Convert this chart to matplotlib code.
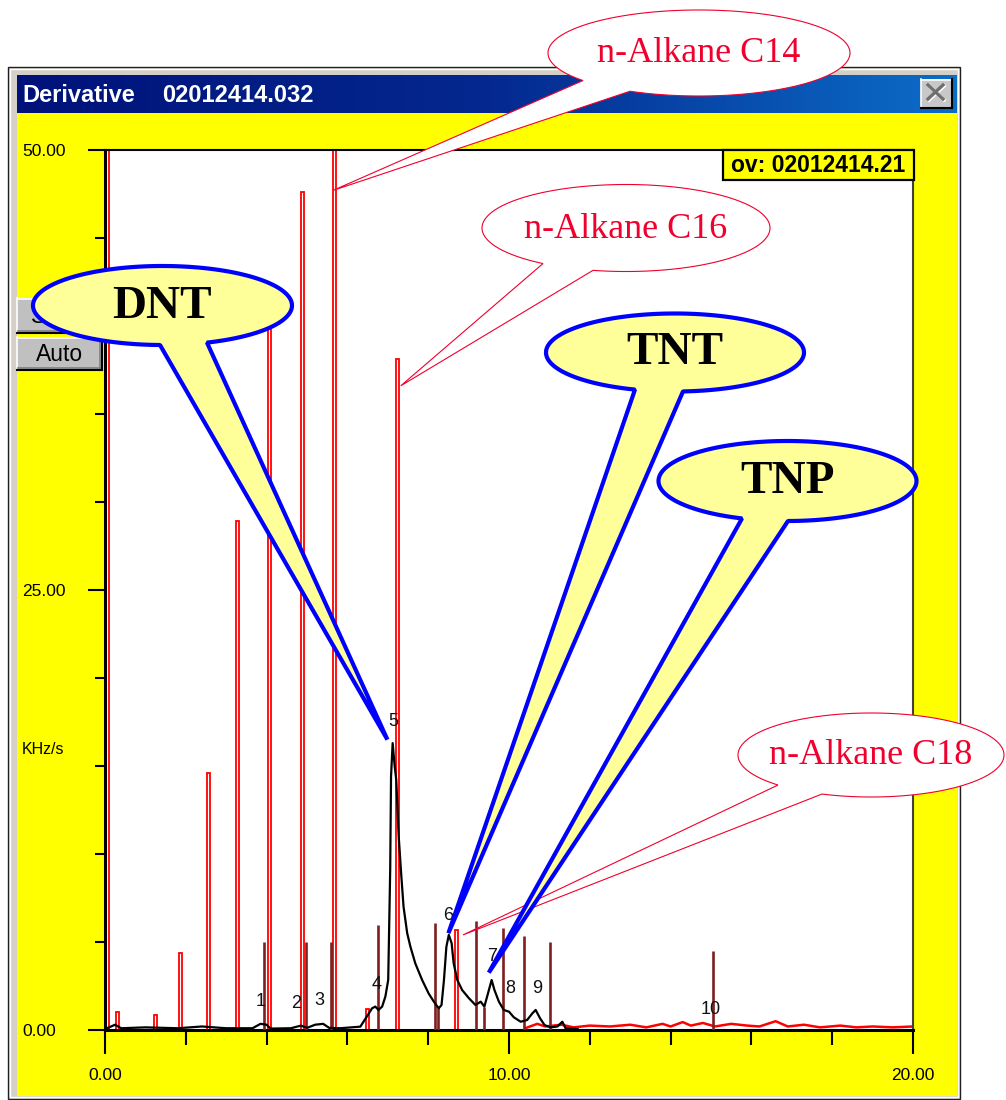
import numpy as np
import matplotlib
matplotlib.use('Agg')
import matplotlib.pyplot as plt
from matplotlib.patches import Rectangle, Polygon
from matplotlib.ticker import MultipleLocator
from matplotlib.colors import LinearSegmentedColormap

plt.rcParams['font.family'] = ['Liberation Sans', 'DejaVu Sans']

W, H = 1006, 1100

# ---- values (x = minutes, y = KHz/s) ----
# sample derivative trace (black)
BLACK_X = [0.0, 0.25, 0.40, 1.0, 1.8, 2.4, 3.0, 3.65, 3.85, 4.0, 4.1, 4.6, 4.85, 5.0,
           5.2, 5.4, 5.55, 5.82, 6.32, 6.48, 6.61, 6.69, 6.77, 6.86, 6.94, 7.01, 7.04,
           7.06, 7.08, 7.12, 7.17, 7.21, 7.27, 7.33, 7.39, 7.48, 7.56, 7.68, 7.85, 8.01,
           8.14, 8.26, 8.33, 8.39, 8.45, 8.51, 8.58, 8.63, 8.72, 8.84, 9.01, 9.17, 9.30,
           9.39, 9.48, 9.57, 9.64, 9.75, 9.87, 10.0, 10.12, 10.29, 10.45, 10.58, 10.66,
           10.77, 10.88, 11.03, 11.2, 11.32, 11.4, 11.7]
BLACK_Y = [0.05, 0.3, 0.1, 0.15, 0.1, 0.2, 0.1, 0.1, 0.35, 0.3, 0.08, 0.1, 0.25, 0.12,
           0.3, 0.35, 0.12, 0.1, 0.19, 0.76, 1.23, 1.33, 1.14, 1.33, 1.9, 2.84, 6.63,
           9.2, 14.4, 16.3, 15.0, 14.2, 11.0, 8.9, 7.0, 5.5, 4.73, 3.79, 2.84, 2.08,
           1.61, 1.23, 1.42, 2.84, 4.73, 5.4, 4.93, 3.79, 2.84, 2.27, 1.8, 1.42, 1.61,
           1.33, 2.08, 2.84, 2.27, 1.61, 1.14, 1.04, 0.72, 0.47, 0.57, 0.95, 1.14,
           0.66, 0.28, 0.15, 0.2, 0.47, 0.1, 0.05]

# overlay reference "ov" (red): narrow n-alkane peaks
SPIKE_X = [0.05, 0.32, 1.26, 1.86, 2.55, 3.29, 4.08, 4.88, 5.67, 6.49, 7.25, 8.69]
SPIKE_H = [60.0, 1.0, 0.85, 4.4, 14.6, 28.9, 40.0, 47.6, 58.0, 1.2, 38.1, 5.7]

# red overlay baseline noise after the last peak
NOISE_X = [10.4, 10.7, 10.9, 11.3, 11.6, 12.0, 12.5, 13.0, 13.4, 13.8, 14.0, 14.3, 14.5,
           14.8, 15.1, 15.5, 15.9, 16.2, 16.6, 16.9, 17.3, 17.7, 18.2, 18.6, 19.0, 19.5, 20.0]
NOISE_Y = [0.1, 0.35, 0.2, 0.3, 0.15, 0.25, 0.2, 0.3, 0.15, 0.35, 0.2, 0.45, 0.25,
           0.4, 0.2, 0.35, 0.25, 0.2, 0.5, 0.2, 0.3, 0.15, 0.25, 0.15, 0.2, 0.15, 0.2]

# integration markers (dark red sticks)
MARK_X = [3.94, 4.98, 5.59, 6.76, 8.17, 8.24, 9.18, 9.38, 9.85, 10.37, 11.01, 15.05]
MARK_TOP = [5.0, 5.0, 5.0, 5.97, 6.1, 1.25, 6.2, 1.32, 5.8, 5.34, 5.0, 4.49]

# peak numbers
PEAK_NUM = ['1', '2', '3', '4', '5', '6', '7', '8', '9', '10']
PEAK_LX = [3.84, 4.72, 5.30, 6.73, 7.14, 8.50, 9.59, 10.04, 10.69, 14.98]
PEAK_LY = [1.6, 1.53, 1.65, 2.56, 17.5, 6.53, 4.2, 2.37, 2.37, 1.14]

X_TICKS = [0, 10, 20]
X_LABELS = ['0.00', '10.00', '20.00']
Y_TICKS = [0, 25, 50]
Y_LABELS = ['0.00', '25.00', '50.00']

# callouts: label, tip (data coords)
ALKANE_LABELS = ['n-Alkane C14', 'n-Alkane C16', 'n-Alkane C18']
ALKANE_TIPS = [(5.64, 47.7), (7.32, 36.6), (8.86, 5.4)]
CPD_LABELS = ['DNT', 'TNT', 'TNP']
CPD_TIPS = [(6.99, 16.5), (8.50, 5.5), (9.50, 3.26)]

# bubble geometry in screen pixels: centre x, centre y, width, height, base x1, base x2
ALKANE_BOX = [(699, 53, 302, 86, 583, 630),
              (626, 228, 288, 87, 543, 593),
              (871, 755, 266, 84, 778, 822)]
CPD_BOX = [(162.5, 305.5, 259, 79, 160, 207),
           (675, 352.5, 258, 78, 635, 683),
           (787.5, 481, 258, 80, 742, 788)]

RED = '#FF0000'
CALLOUT_RED = '#F0002D'
YELLOW = '#FFFF00'
PALE = '#FFFF99'
BLUE = '#0000FF'
GRAY = '#D4D0C8'


def bubble(ax, box, tip, fc, ec, lw, z):
    cx, cy, w, h, b1, b2 = box
    a, b = w / 2, h / 2
    t1 = np.arccos((b1 - cx) / a)
    t2 = np.arccos((b2 - cx) / a)
    t = np.linspace(t1, t2 + 2 * np.pi, 300)
    pts = np.column_stack([cx + a * np.cos(t), cy + b * np.sin(t)])
    pts = np.vstack([pts, tip])
    ax.add_patch(Polygon(pts, closed=True, fc=fc, ec=ec, lw=lw, zorder=z,
                         joinstyle='bevel'))


def button(ax, x0, y0, x1, y1, label):
    ax.add_patch(Rectangle((x0, y0), x1 - x0, y1 - y0, fc='#C0C0C0', ec='none', zorder=1))
    ax.plot([x0, x1], [y0 + 0.5, y0 + 0.5], color='white', lw=1.2, zorder=1.1)
    ax.plot([x0 + 0.5, x0 + 0.5], [y0, y1], color='white', lw=1.2, zorder=1.1)
    ax.plot([x0 + 1, x1 - 1], [y1 - 2, y1 - 2], color='#808080', lw=1.2, zorder=1.1)
    ax.plot([x1 - 2, x1 - 2], [y0 + 1, y1 - 1], color='#808080', lw=1.2, zorder=1.1)
    ax.plot([x0, x1], [y1, y1], color='black', lw=1.5, zorder=1.1)
    ax.plot([x1, x1], [y0, y1], color='black', lw=1.5, zorder=1.1)
    ax.text((x0 + x1) / 2, (y0 + y1) / 2 + 1, label, ha='center', va='center',
            fontsize=16.5, color='black', zorder=1.2)


fig = plt.figure(figsize=(W / 100, H / 100), dpi=100)
fig.patch.set_facecolor('white')

# ---- window chrome (background layer) ----
ax_bg = fig.add_axes([0, 0, 1, 1])
ax_bg.set_zorder(0)
ax_bg.axis('off')
ax_bg.add_patch(Rectangle((8, 67), 952, 1032, fc=GRAY, ec='#202020', lw=1, zorder=1))
ax_bg.add_patch(Rectangle((10, 69), 948, 1028, fc='none', ec='white', lw=1, zorder=1.1))
grad = np.linspace(0, 1, 256)[None, :]
tb_cmap = LinearSegmentedColormap.from_list('tb', ['#00127A', '#04288F', '#0C6DC8'])
ax_bg.imshow(grad, extent=[17, 957, 113, 75], cmap=tb_cmap, aspect='auto', zorder=2)
ax_bg.add_patch(Rectangle((17, 113), 940, 983, fc=YELLOW, ec='none', zorder=2))
ax_bg.text(22, 95, 'Derivative', color='white', fontsize=17, fontweight='bold',
           ha='left', va='center', zorder=3)
ax_bg.text(162, 95, '02012414.032', color='white', fontsize=17, fontweight='bold',
           ha='left', va='center', zorder=3)
# close button
ax_bg.add_patch(Rectangle((921, 79), 31, 29, fc='#C8C8C8', ec='none', zorder=3))
ax_bg.plot([921, 952], [79.5, 79.5], color='white', lw=1.2, zorder=3.1)
ax_bg.plot([921.5, 921.5], [79, 108], color='white', lw=1.2, zorder=3.1)
ax_bg.plot([921, 952], [108, 108], color='black', lw=1.5, zorder=3.1)
ax_bg.plot([952, 952], [79, 108], color='black', lw=1.5, zorder=3.1)
ax_bg.plot([929, 944], [86, 100], color='white', lw=2.6, zorder=3.2)
ax_bg.plot([929, 944], [100, 86], color='white', lw=2.6, zorder=3.2)
ax_bg.plot([928, 943], [85, 99], color='#707070', lw=2.4, zorder=3.3)
ax_bg.plot([928, 943], [99, 85], color='#707070', lw=2.4, zorder=3.3)
ax_bg.text(22, 750, 'KHz/s', fontsize=11.5, ha='left', va='center', zorder=3)
ax_bg.set_xlim(0, W)
ax_bg.set_ylim(H, 0)

# ---- chromatogram ----
ax = fig.add_axes([105 / W, 70 / H, 808 / W, 880 / H])
ax.set_zorder(1)
ax.set_facecolor('white')
ax.bar(SPIKE_X, SPIKE_H, width=0.075, facecolor='none', edgecolor=RED, lw=1.3, zorder=2)
ax.plot(NOISE_X, NOISE_Y, color=RED, lw=1.8, zorder=2.5)
ax.vlines(MARK_X, 0, MARK_TOP, color='#7F1F1F', lw=1.9, zorder=3)
ax.plot(BLACK_X, BLACK_Y, color='black', lw=1.6, zorder=4)
for s, lx, ly in zip(PEAK_NUM, PEAK_LX, PEAK_LY):
    ax.text(lx, ly, s, fontsize=13, ha='center', va='center', color='#111111', zorder=5)

ax.set_xlim(0, 20)
ax.set_ylim(0, 50)
ax.set_xticks(X_TICKS)
ax.set_xticklabels(X_LABELS)
ax.set_yticks(Y_TICKS)
ax.set_yticklabels(Y_LABELS)
ax.xaxis.set_minor_locator(MultipleLocator(2))
ax.yaxis.set_minor_locator(MultipleLocator(5))
ax.tick_params(axis='x', which='major', length=17.3, width=1.5, pad=10, labelsize=12.5)
ax.tick_params(axis='x', which='minor', length=10.8, width=1.5)
ax.tick_params(axis='y', which='major', length=12.2, width=1.5, pad=47.5, labelsize=12.5)
ax.tick_params(axis='y', which='minor', length=7.2, width=1.5)
for lab in ax.get_yticklabels():
    lab.set_horizontalalignment('left')
ax.spines['left'].set_linewidth(2.2)
ax.spines['bottom'].set_linewidth(2.2)
ax.spines['top'].set_linewidth(1.5)
ax.spines['right'].set_linewidth(1.5)
ax.spines['right'].set_color('#404040')

# ---- overlay: buttons, legend box, callouts ----
ax_top = fig.add_axes([0, 0, 1, 1])
ax_top.set_zorder(2)
ax_top.patch.set_alpha(0)
ax_top.axis('off')
ax_top.set_xlim(0, W)
ax_top.set_ylim(H, 0)

button(ax_top, 17, 298, 102, 333, 'Scale')
button(ax_top, 17, 337, 102, 370, 'Auto')

ax_top.add_patch(Rectangle((723, 150), 191, 30, fc=YELLOW, ec='black', lw=1.6, zorder=1))
ax_top.text(818.5, 166, 'ov: 02012414.21', fontsize=16.5, fontweight='bold',
            ha='center', va='center', zorder=1.2)


def to_px(pt):
    disp = ax.transData.transform(pt)
    return ax_top.transData.inverted().transform(disp)


for lab, tip, box in zip(ALKANE_LABELS, ALKANE_TIPS, ALKANE_BOX):
    bubble(ax_top, box, to_px(tip), 'white', CALLOUT_RED, 0.8, 4)
    ax_top.text(box[0], box[1] + 1, lab, fontsize=26, family=['Liberation Serif'],
                color=CALLOUT_RED, ha='center', va='center', zorder=4.5)

for lab, tip, box in zip(CPD_LABELS, CPD_TIPS, CPD_BOX):
    bubble(ax_top, box, to_px(tip), PALE, BLUE, 3.0, 5)
    ax_top.text(box[0], box[1] + 1, lab, fontsize=34, fontweight='bold',
                family=['Liberation Serif'], color='black',
                ha='center', va='center', zorder=5.5)

fig.savefig('out.png', dpi=100)
